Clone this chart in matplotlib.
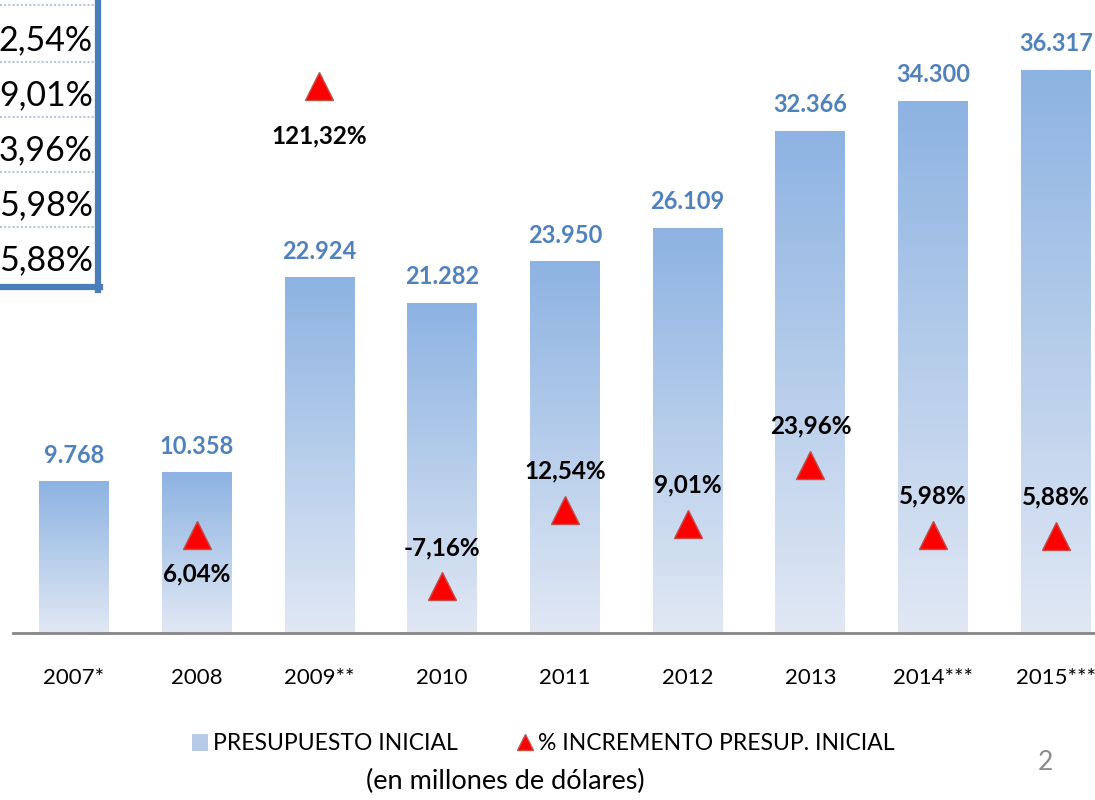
import numpy as np
import matplotlib
matplotlib.use("Agg")
import matplotlib.pyplot as plt
from matplotlib.patches import Rectangle, Patch
from matplotlib.lines import Line2D
from matplotlib.colors import LinearSegmentedColormap

plt.rcParams['font.family'] = ['Lato', 'DejaVu Sans']

years = ["2007*", "2008", "2009**", "2010", "2011", "2012", "2013", "2014***", "2015***"]
budget = [9768, 10358, 22924, 21282, 23950, 26109, 32366, 34300, 36317]
budget_labels = ["9.768", "10.358", "22.924", "21.282", "23.950", "26.109", "32.366", "34.300", "36.317"]
pct = [np.nan, 6.04, 121.32, -7.16, 12.54, 9.01, 23.96, 5.98, 5.88]
pct_labels = ["", "6,04%", "121,32%", "-7,16%", "12,54%", "9,01%", "23,96%", "5,98%", "5,88%"]
pct_label_side = ["", "below", "below", "above", "above", "above", "above", "above", "above"]
table_rows = ["2,54%", "9,01%", "3,96%", "5,98%", "5,88%"]

W, H = 1095, 800
fig = plt.figure(figsize=(W / 100, H / 100), dpi=100)

ax_left, ax_bottom = 13 / W, 1 - 633 / H
ax = fig.add_axes([ax_left, ax_bottom, 1 - ax_left, 1 - ax_bottom])
x = np.arange(len(years))
bars = ax.bar(x, budget, width=0.57, color='none', edgecolor='none', zorder=2)

cmap = LinearSegmentedColormap.from_list("g", ["#E1E8F4", "#8DB3E2"])
grad = np.linspace(0, 1, 256).reshape(-1, 1)
for b in bars:
    x0, w, h = b.get_x(), b.get_width(), b.get_height()
    ax.imshow(grad, extent=[x0, x0 + w, 0, h], origin='lower', cmap=cmap,
              aspect='auto', zorder=2, interpolation='bilinear')
ax.set_xlim(-0.497, 8.318)
ax.set_ylim(0, 40840)

for xi, v, lab in zip(x, budget, budget_labels):
    ax.annotate(lab, (xi, v), xytext=(0, 19), textcoords='offset points',
                ha='center', va='center', fontsize=17, fontweight='bold',
                color='#4F81BD')

for s in ['top', 'right', 'left']:
    ax.spines[s].set_visible(False)
ax.spines['bottom'].set_color('#868686')
ax.spines['bottom'].set_linewidth(2)
ax.set_yticks([])
ax.set_xticks(x)
ax.set_xticklabels(years, fontsize=16)
ax.tick_params(axis='x', length=0, pad=25)

ax2 = ax.twinx()
ax2.set_ylim(-19.1, 143.4)
ax2.plot(x, pct, linestyle='none', marker='^', markersize=20,
         markerfacecolor='#FF0000', markeredgecolor='#C0504D', markeredgewidth=1, zorder=3)
for xi, v, lab, side in zip(x, pct, pct_labels, pct_label_side):
    if not lab:
        continue
    dy = 28 if side == "above" else -28
    if xi == 2:
        dy = -36
    ax2.annotate(lab, (xi, v), xytext=(0, dy), textcoords='offset points',
                 ha='center', va='center', fontsize=17.5, fontweight='bold', color='black')
ax2.set_yticks([])
for s in ax2.spines.values():
    s.set_visible(False)

# clipped table in the top-left corner
def fx(px):
    return px / W

def fy(py):
    return 1 - py / H

fig.patches.append(Rectangle((0, fy(287)), fx(99), 287 / H, transform=fig.transFigure,
                             facecolor='white', edgecolor='none', zorder=5))
fig.lines.append(Line2D([fx(98), fx(98)], [fy(0), fy(290)], transform=fig.transFigure,
                        color='#4A7EBB', linewidth=4.5, zorder=7))
fig.lines.append(Line2D([0, fx(100)], [fy(287), fy(287)], transform=fig.transFigure,
                        color='#4A7EBB', linewidth=4.5, zorder=7))
for yy in [5, 62, 117, 172, 227]:
    fig.lines.append(Line2D([0, fx(95)], [fy(yy), fy(yy)], transform=fig.transFigure,
                            color='#B4C6DC', linewidth=1.5, linestyle=(0, (1, 1)), zorder=6))
row_centers = [40, 95, 150, 205, 260]
for yc, t in zip(row_centers, table_rows):
    fig.text(fx(93), fy(yc), t, ha='right', va='center', fontsize=24.5, color='black', zorder=8)

# legend
handles = [Patch(facecolor='#B7CBE8', edgecolor='none'),
           Line2D([], [], linestyle='none', marker='^', markersize=12,
                  markerfacecolor='#FF0000', markeredgecolor='#C0504D')]
fig.legend(handles, ["PRESUPUESTO INICIAL", "% INCREMENTO PRESUP. INICIAL"],
           loc='center', bbox_to_anchor=(0.496, fy(744)), ncol=2, frameon=False,
           fontsize=16.5, handlelength=0.7, handleheight=0.7, handletextpad=0.2,
           columnspacing=2.6)
fig.text(fx(505), fy(781), "(en millones de dólares)", ha='center', va='center', fontsize=19.5)
fig.text(fx(1045), fy(762), "2", ha='center', va='center', fontsize=19, color='#8C8C8C')

fig.savefig("out.png", dpi=100)
